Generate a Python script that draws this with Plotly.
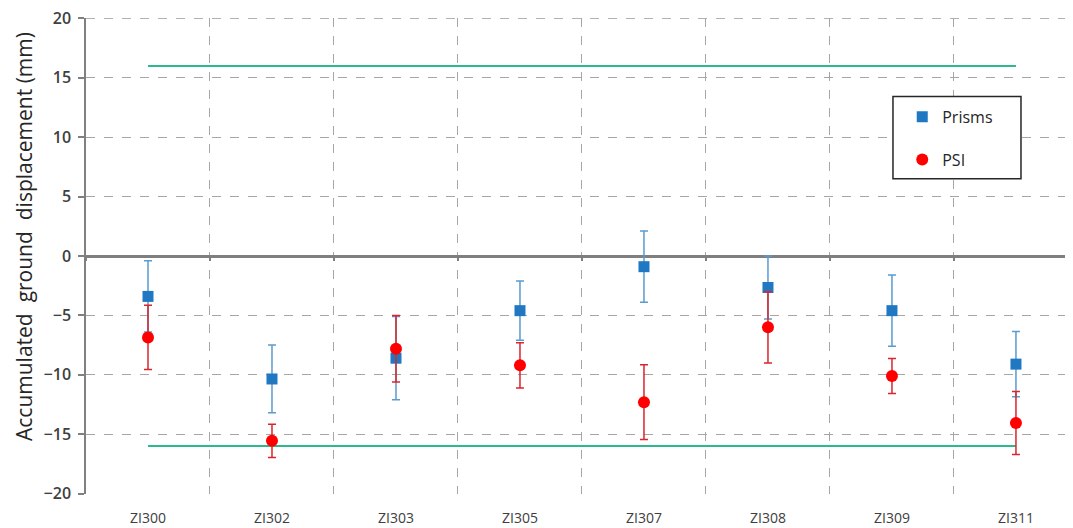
import plotly.graph_objects as go

categories = ["ZI300", "ZI302", "ZI303", "ZI305", "ZI307", "ZI308", "ZI309", "ZI311"]
prisms = [-3.4, -10.35, -8.6, -4.6, -0.9, -2.65, -4.6, -9.1]
prisms_err = [3.0, 2.85, 3.5, 2.5, 3.0, 2.65, 3.0, 2.75]
psi = [-6.85, -15.55, -7.8, -9.2, -12.3, -6.0, -10.1, -14.05]
psi_err = [2.7, 1.4, 2.8, 1.9, 3.15, 3.0, 1.47, 2.65]
threshold_upper = [16, 16]
threshold_lower = [-16, -16]
threshold_x = [categories[0], categories[-1]]
y_ticks = [-20, -15, -10, -5, 0, 5, 10, 15, 20]
y_title = "Accumulated  ground  displacement (mm)"

green = "#2DB88F"
grid = "#A6A6A6"
fig = go.Figure()

fig.add_trace(go.Scatter(x=threshold_x, y=threshold_upper, mode="lines",
                         line=dict(color=green, width=2), showlegend=False, hoverinfo="skip"))
fig.add_trace(go.Scatter(x=threshold_x, y=threshold_lower, mode="lines",
                         line=dict(color=green, width=2), showlegend=False, hoverinfo="skip"))

fig.add_trace(go.Scatter(
    x=categories, y=prisms, mode="markers", name="Prisms", legendgroup="a",
    marker=dict(symbol="square", size=11, color="#1F78C1"),
    error_y=dict(type="data", array=prisms_err, visible=True, color="#5A9BD0",
                 thickness=1.5, width=4),
))
fig.add_trace(go.Scatter(
    x=categories, y=psi, mode="markers", name="PSI", legendgroup="b",
    marker=dict(symbol="circle", size=12, color="#FF0000"),
    error_y=dict(type="data", array=psi_err, visible=True, color="#D9262C",
                 thickness=1.5, width=4),
))

# tick marks on the zero line at category boundaries
fig.add_trace(go.Scatter(x=categories, y=[None] * len(categories), xaxis="x2",
                         showlegend=False, hoverinfo="skip"))

# top gridline (edge of plot area)
fig.add_shape(type="line", xref="paper", yref="y", x0=0, x1=1,
              y0=y_ticks[-1], y1=y_ticks[-1],
              line=dict(color=grid, width=1, dash="dash"), layer="below")

# legend frame
fig.add_shape(type="rect", xref="paper", yref="paper",
              x0=0.8176, x1=0.9473, y0=0.6625, y1=0.835,
              line=dict(color="#262626", width=1.5), fillcolor="white", layer="above")

fig.add_annotation(text=y_title, xref="paper", yref="paper", x=-0.0628, y=0.540,
                   textangle=-90, showarrow=False, xanchor="center", yanchor="middle",
                   font=dict(size=21, color="#262626"))

fig.update_layout(
    width=1065, height=520,
    margin=dict(l=78, r=0, t=10, b=34, autoexpand=False),
    plot_bgcolor="white", paper_bgcolor="white",
    font=dict(family="Open Sans, Noto Sans, sans-serif", color="#404040"),
    xaxis=dict(
        type="category", categoryorder="array", categoryarray=categories,
        range=[-0.5, 7.46], tickson="boundaries", ticks="", automargin=False,
        showgrid=True, gridcolor=grid, griddash="dash", gridwidth=1,
        showline=False, zeroline=False, ticklabelstandoff=14,
        ticklabeloverflow="allow",
        tickfont=dict(size=14, color="#404040"),
    ),
    xaxis2=dict(
        type="category", categoryorder="array", categoryarray=categories,
        range=[-0.5, 7.46], overlaying="x", anchor="free", position=0.5,
        tickson="boundaries", ticks="outside", ticklen=4, tickwidth=2, tickcolor="#808080",
        showticklabels=False, showgrid=False, showline=False, zeroline=False,
        side="bottom", automargin=False,
    ),
    yaxis=dict(
        range=[-20.03, 20.03], tickvals=y_ticks, ticks="outside", ticklen=6,
        tickcolor="#808080", tickwidth=1.5, automargin=False,
        showline=True, linecolor="#808080", linewidth=1.5,
        showgrid=True, gridcolor=grid, griddash="dash", gridwidth=1,
        zeroline=True, zerolinecolor="#7F7F7F", zerolinewidth=2.5,
        ticklabeloverflow="allow", ticklabelstandoff=4,
        tickfont=dict(size=16, color="#404040", weight=600),
    ),
    legend=dict(
        x=0.827, y=0.828, xanchor="left", yanchor="top",
        bgcolor="rgba(0,0,0,0)", borderwidth=0,
        font=dict(size=16, color="#262626"),
        tracegroupgap=19, traceorder="grouped",
        itemwidth=30,
    ),
)

fig.write_html("out.html")
